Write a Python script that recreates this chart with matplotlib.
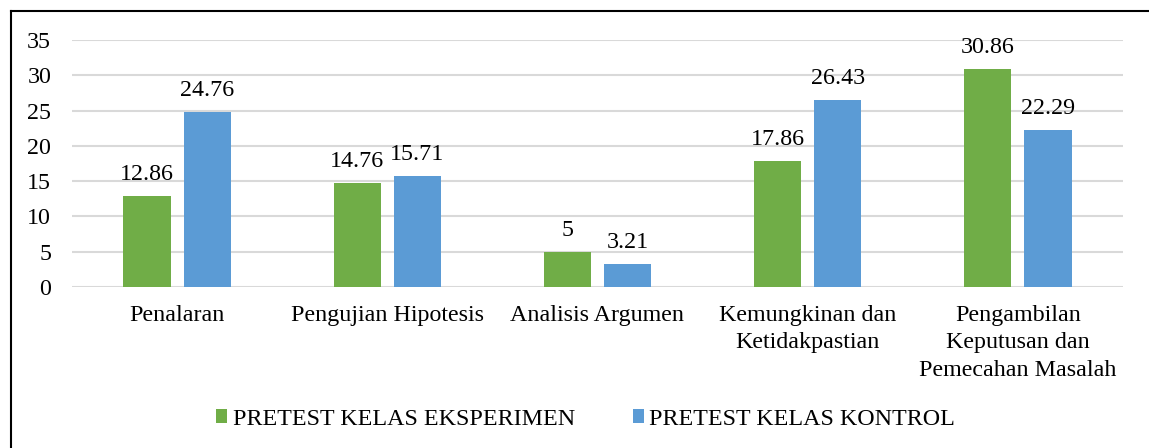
import matplotlib
matplotlib.use("Agg")
import matplotlib.pyplot as plt
from matplotlib.lines import Line2D
import numpy as np

categories = ["Penalaran", "Pengujian Hipotesis", "Analisis Argumen",
              "Kemungkinan dan\nKetidakpastian",
              "Pengambilan\nKeputusan dan\nPemecahan Masalah"]
eksperimen = [12.86, 14.76, 5, 17.86, 30.86]
kontrol = [24.76, 15.71, 3.21, 26.43, 22.29]
series_names = ["PRETEST KELAS EKSPERIMEN", "PRETEST KELAS KONTROL"]
yticks = [0, 5, 10, 15, 20, 25, 30, 35]

plt.rcParams['font.family'] = ['Liberation Serif', 'DejaVu Serif']
FS = 17.3

fig = plt.figure(figsize=(11.49, 4.48), dpi=100)
ax = fig.add_axes([72/1149, 1-287/448, (1123-72)/1149, (287-40)/448])

x = np.arange(len(categories))
w = 0.224
off = 0.143
b1 = ax.bar(x - off, eksperimen, w, color='#70AD47', label=series_names[0], zorder=3)
b2 = ax.bar(x + off, kontrol, w, color='#5B9BD5', label=series_names[1], zorder=3)
ax.bar_label(b1, labels=[f"{v:g}" for v in eksperimen], padding=8, fontsize=FS)
ax.bar_label(b2, labels=[f"{v:g}" for v in kontrol], padding=8, fontsize=FS)

ax.set_xlim(-0.5, len(categories) - 0.5)
ax.set_ylim(0, 35)
ax.set_yticks(yticks)
ax.set_xticks(x)
ax.set_xticklabels(categories, fontsize=FS, linespacing=1.4)
ax.tick_params(axis='y', length=0, pad=15, labelsize=FS)
ax.tick_params(axis='x', length=0, pad=13, labelsize=FS)
ax.grid(axis='y', color='#D9D9D9', linewidth=1.5, zorder=0)
for s in ax.spines.values():
    s.set_visible(False)

leg = fig.legend(handles=[b1, b2], loc='center', bbox_to_anchor=(585.5/1149, 1-419/448),
                 ncol=2, frameon=False, fontsize=FS, handlelength=0.48, handleheight=0.48,
                 handletextpad=0.22, columnspacing=2.4, borderpad=0)

fig.add_artist(Line2D([10.5/1149, 10.5/1149], [0, 1-11.5/448], transform=fig.transFigure,
                      color='black', linewidth=1.5))
fig.add_artist(Line2D([10.5/1149, 1], [1-11.5/448, 1-11.5/448], transform=fig.transFigure,
                      color='black', linewidth=1.5))

fig.savefig("out.png", dpi=100)
